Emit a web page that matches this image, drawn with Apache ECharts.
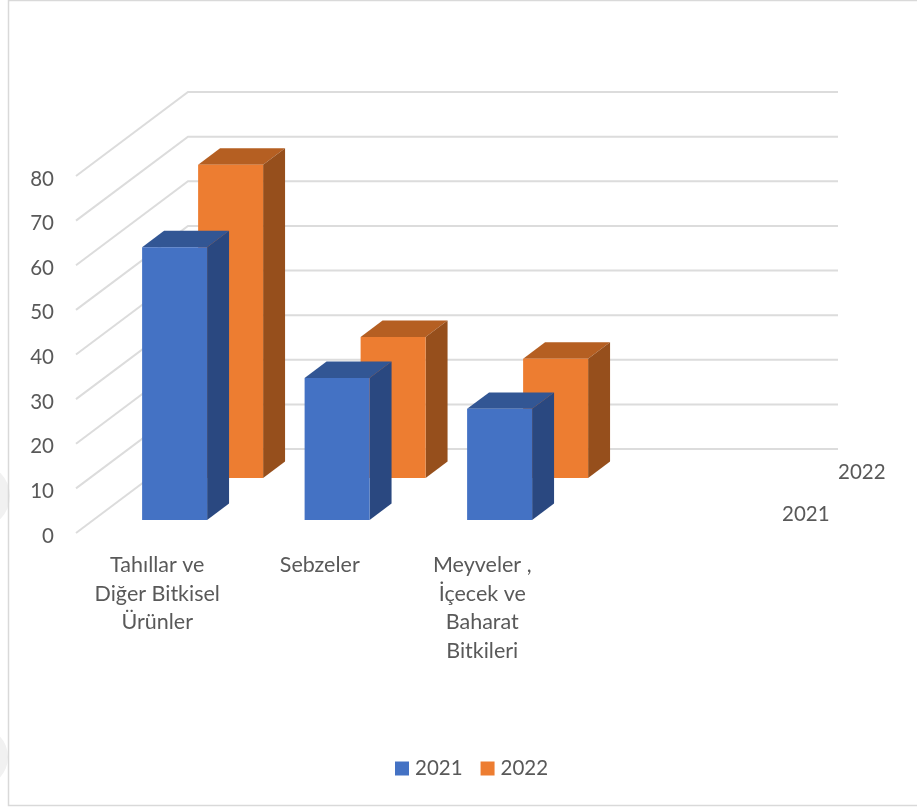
<!DOCTYPE html>
<html>
<head>
<meta charset="utf-8">
<style>html,body{margin:0;padding:0;background:#fff}#chart{width:917px;height:807px}</style>
<script src="https://cdn.jsdelivr.net/npm/echarts@6/dist/echarts.min.js"></script>
</head>
<body>
<div id="chart"></div>
<script>
// Crop output by product group, two harvest years, drawn as 3D-look columns.
const categories = ['Tahıllar ve\nDiğer Bitkisel\nÜrünler', 'Sebzeler', 'Meyveler ,\nİçecek ve\nBaharat\nBitkileri', ''];
const years = ['2021', '2022'];
const values2021 = [61.1, 31.8, 24.9];
const values2022 = [70.2, 31.6, 26.7];
const yTicks = [0, 10, 20, 30, 40, 50, 60, 70, 80];

// Oblique projection of the floor: how far the back wall is shifted from the front plane.
const WALL_DX = 112, WALL_DY = -84;
const BAR_WIDTH_RATIO = 0.4;
const SLOT = 0.5;            // share of the floor depth per year
const BAR_DEPTH = 0.196;     // column depth as a share of the floor depth
const BAR_INSET = 0.155;     // gap in front of each column, same unit

const FONT = 'Lato, Carlito, "Open Sans", sans-serif';
const TEXT = '#595959';
const GRID = '#dcdcdc';

const face = (points, fill) => ({ type: 'polygon', shape: { points }, style: { fill } });

// One series per year: front, top and side faces of every column.
function columnRenderer(slotIndex, topColor, sideColor) {
  return function (params, api) {
    const cat = api.value(0), val = api.value(1);
    const band = api.size([1, 0])[0];
    const w = band * BAR_WIDTH_RATIO;
    const d0 = SLOT * slotIndex + BAR_INSET;
    const ox = WALL_DX * d0, oy = WALL_DY * d0;
    const dx = WALL_DX * BAR_DEPTH, dy = WALL_DY * BAR_DEPTH;
    const base = api.coord([cat, 0]), top = api.coord([cat, val]);
    const l = base[0] - w / 2 + ox, r = l + w;
    const yb = base[1] + oy, yt = top[1] + oy;
    return {
      type: 'group',
      children: [
        face([[l, yt], [r, yt], [r + dx, yt + dy], [l + dx, yt + dy]], topColor),
        face([[r, yt], [r + dx, yt + dy], [r + dx, yb + dy], [r, yb]], sideColor),
        face([[l, yt], [r, yt], [r, yb], [l, yb]], api.visual('color'))
      ]
    };
  };
}

// Gridline bent along the side wall and the back wall for each value tick.
function wallRenderer(params, api) {
  const cs = params.coordSys;
  const y = api.coord([0, api.value(0)])[1];
  return {
    type: 'polyline',
    shape: { points: [[cs.x, y], [cs.x + WALL_DX, y + WALL_DY], [cs.x + cs.width + WALL_DX, y + WALL_DY]] },
    style: { stroke: GRID, lineWidth: 2, fill: null }
  };
}

// Year labels along the depth edge, right of the floor.
function depthLabelRenderer(params, api) {
  const cs = params.coordSys;
  const i = api.value(0);
  const d = SLOT * (i + 0.5);
  return {
    type: 'text',
    style: {
      text: years[i],
      x: cs.x + cs.width + WALL_DX * d + 28,
      y: api.coord([0, 0])[1] + WALL_DY * d + 2,
      fill: TEXT, font: '20.5px ' + FONT,
      textAlign: 'left', textVerticalAlign: 'middle'
    }
  };
}

const chart = echarts.init(document.getElementById('chart'), null, { renderer: 'canvas' });
chart.setOption({
  animation: false,
  backgroundColor: '#ffffff',
  graphic: [
    // Faint page marks left of the frame
    { type: 'circle', shape: { cx: -22, cy: 496, r: 32 }, style: { fill: '#f1f1f1' }, silent: true },
    { type: 'circle', shape: { cx: -22, cy: 757, r: 30 }, style: { fill: '#f1f1f1' }, silent: true },
    // Chart frame
    { type: 'polyline', shape: { points: [[950, 0.5], [8.5, 0.5], [8.5, 805.5], [950, 805.5]] },
      style: { stroke: '#d9d9d9', lineWidth: 1.5, fill: null }, silent: true }
  ],
  grid: { left: 76, top: 176, width: 650, height: 357 },
  legend: {
    data: years,
    left: 395, top: 758, padding: 0,
    icon: 'rect', itemWidth: 14, itemHeight: 14, itemGap: 18,
    textStyle: { fontFamily: FONT, fontSize: 20.5, color: TEXT, padding: [0, 0, 0, 1] }
  },
  xAxis: {
    type: 'category',
    data: categories,
    axisLine: { show: false },
    axisTick: { show: false },
    axisLabel: { interval: 0, margin: 18, color: TEXT, fontFamily: FONT, fontSize: 21.5, lineHeight: 28.5, align: 'center' }
  },
  yAxis: {
    type: 'value', min: 0, max: 80, interval: 10,
    axisLine: { show: false },
    axisTick: { show: false },
    splitLine: { show: false },
    axisLabel: { margin: 22, color: TEXT, fontFamily: FONT, fontSize: 20.5, verticalAlign: 'top', lineHeight: 6 }
  },
  series: [
    { type: 'custom', name: 'walls', z: 1, silent: true, coordinateSystem: 'cartesian2d',
      encode: { x: 1, y: 0 }, data: yTicks.map(t => [t, 0]), renderItem: wallRenderer, clip: false },
    { type: 'custom', name: 'depth', z: 1, silent: true, coordinateSystem: 'cartesian2d',
      encode: { x: 0, y: 1 }, data: years.map((_, i) => [i, 0]), renderItem: depthLabelRenderer, clip: false },
    { type: 'custom', name: '2022', z: 3, itemStyle: { color: '#ED7D31' },
      encode: { x: 0, y: 1 }, data: values2022.map((v, i) => [i, v]),
      renderItem: columnRenderer(1, '#B55F22', '#964F1C'), clip: false },
    { type: 'custom', name: '2021', z: 4, itemStyle: { color: '#4472C4' },
      encode: { x: 0, y: 1 }, data: values2021.map((v, i) => [i, v]),
      renderItem: columnRenderer(0, '#325694', '#2A4880'), clip: false }
  ]
});
</script>
</body>
</html>
